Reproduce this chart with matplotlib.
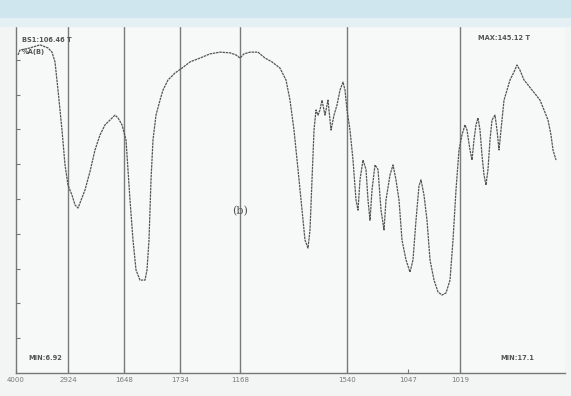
import matplotlib
matplotlib.use("Agg")
import matplotlib.pyplot as plt
from matplotlib.patches import Rectangle

# chart position (scan position, left to right) and transmittance (%T)
position = [18, 20, 30, 40, 48, 52, 55, 58, 62, 65, 68, 72, 75, 78, 80, 85, 90, 95, 100, 105,
            110, 115, 118, 122, 126, 128, 130, 133, 136, 140, 145, 147, 149, 151, 153, 156, 160,
            163, 168, 175, 182, 190, 200, 210, 220, 230, 236, 240, 244, 250, 258, 265, 272, 280,
            286, 290, 294, 298, 302, 305, 308, 310, 312, 314, 316, 318, 320, 322, 325, 328, 331,
            334, 337, 340, 343, 345, 347, 350, 353, 356, 358, 360, 363, 366, 368, 370, 372, 375,
            378, 381, 384, 386, 390, 393, 396, 399, 402, 406, 410, 413, 416, 419, 421, 424, 427,
            430, 434, 438, 442, 446, 450, 453, 456, 459, 462, 465, 467, 470, 472, 474, 476, 478,
            480, 482, 484, 486, 488, 490, 492, 495, 497, 499, 501, 504, 507, 510, 514, 517, 520,
            524, 528, 532, 536, 540, 544, 548, 551, 553, 556]
transmittance = [91.4, 92.8, 93.4, 94.3, 93.4, 92.2, 89.4, 81.3, 69.8, 59.8, 54.0, 51.1, 48.3, 47.4,
                 48.9, 52.6, 57.9, 64.1, 68.4, 71.3, 72.7, 74.1, 73.3, 71.3, 67.0, 58.5, 49.7, 38.2,
                 29.6, 26.7, 26.7, 29.6, 38.2, 55.5, 67.0, 74.1, 78.4, 81.3, 84.2, 86.2, 87.6, 89.4,
                 90.5, 91.7, 92.2, 92.0, 91.4, 90.5, 91.7, 92.2, 92.2, 90.5, 89.4, 87.6, 84.2, 78.4,
                 69.8, 58.5, 46.8, 38.2, 35.9, 41.1, 55.5, 69.8, 75.6, 74.1, 75.6, 78.4, 74.1, 78.4,
                 69.8, 74.1, 77.0, 81.3, 83.6, 81.3, 75.6, 69.8, 61.2, 49.7, 46.8, 55.5, 61.2, 58.5,
                 49.7, 43.9, 52.6, 59.8, 58.5, 46.8, 41.1, 49.7, 56.9, 59.8, 55.5, 49.7, 38.2, 32.5,
                 29.0, 32.5, 43.9, 53.8, 55.5, 51.1, 43.9, 32.5, 26.7, 23.3, 22.4, 23.0, 26.7, 38.2,
                 52.6, 64.1, 68.4, 71.3, 69.8, 64.1, 61.2, 67.0, 71.3, 73.3, 69.8, 62.6, 56.9, 54.0,
                 58.5, 67.0, 72.7, 74.1, 69.8, 64.1, 69.8, 78.4, 81.3, 84.2, 86.5, 88.5, 87.0, 84.2,
                 82.8, 81.3, 79.9, 78.4, 75.6, 72.7, 68.4, 64.1, 61.2]

marker_lines = [68, 124, 180, 240, 347, 460]
tick_positions = [16, 68, 124, 180, 240, 347, 408, 460]
tick_labels = ["4000", "2924", "1648", "1734", "1168", "1540", "1047", "1019"]

fig = plt.figure(figsize=(5.71, 3.96), dpi=100, facecolor="#f3f5f5")
fig.patches.append(Rectangle((0, 0.955), 1, 0.045, transform=fig.transFigure,
                             color="#cfe6ee", zorder=0))
fig.patches.append(Rectangle((0, 0.935), 1, 0.02, transform=fig.transFigure,
                             color="#e4f0f3", zorder=0))

ax = fig.add_axes([16 / 571, 23 / 396, 549 / 571, 348 / 396])
ax.set_facecolor("#f7f8f8")
ax.set_xlim(16, 565)
ax.set_ylim(0, 100)

for x in marker_lines:
    ax.axvline(x, color="#7a7a7a", lw=1.0, zorder=1)

ax.plot(position, transmittance, color="#555555", lw=0.9, ls=(0, (2, 0.6)), zorder=3)

for s in ["left", "top", "bottom"]:
    ax.spines[s].set_color("#777777")
    ax.spines[s].set_linewidth(1.0)
ax.spines["right"].set_visible(False)

ax.set_xticks(tick_positions)
ax.set_xticklabels(tick_labels, fontsize=5, color="#777777")
ax.set_yticks(range(10, 100, 10))
ax.set_yticklabels([])
ax.tick_params(axis="both", direction="in", length=3, color="#777777", pad=3)

txt = dict(fontsize=4.8, color="#555555", fontweight="bold")
ax.text(22, 96.5, "BS1:106.46 T", va="top", **txt)
ax.text(22, 93.0, "%A(B)", va="top", **txt)
ax.text(478, 97.0, "MAX:145.12 T", va="top", **txt)
ax.text(28, 3.5, "MIN:6.92", va="bottom", **txt)
ax.text(500, 3.5, "MIN:17.1", va="bottom", **txt)
ax.text(240, 46.5, "(b)", ha="center", va="center", fontsize=8, color="#555555",
        family="DejaVu Serif")

fig.savefig("out.png", dpi=100, facecolor=fig.get_facecolor())
